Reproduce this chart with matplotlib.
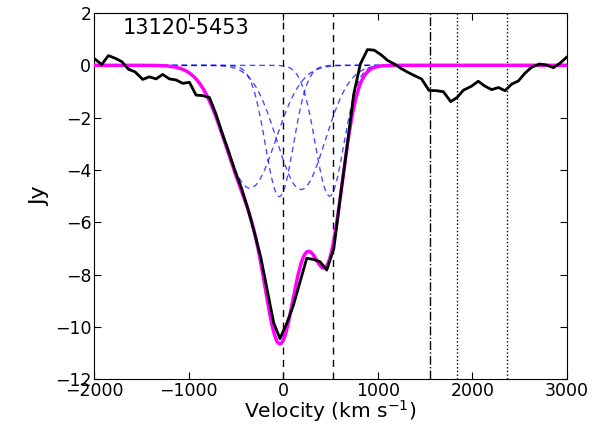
import matplotlib
matplotlib.use("Agg")
from matplotlib import pyplot as plt
import numpy as np

# observed spectrum (black)
vel = [-1995, -1919, -1849, -1778, -1707, -1637, -1567, -1486, -1416, -1345,
       -1275, -1204, -1133, -1063, -992, -922, -851, -781, -713, -645,
       -577, -509, -441, -373, -305, -237, -169, -101, -35, 33,
       105, 176, 248, 318, 389, 460, 535, 605, 675, 745,
       815, 890, 960, 1035, 1105, 1175, 1245, 1318, 1390, 1462,
       1541, 1620, 1693, 1771, 1838, 1905, 1990, 2062, 2133, 2204,
       2274, 2345, 2415, 2485, 2556, 2627, 2710, 2785, 2856, 2926, 2997]
flux = [0.25, 0.03, 0.37, 0.27, 0.14, -0.15, -0.25, -0.54, -0.44, -0.52,
        -0.35, -0.52, -0.56, -0.69, -0.65, -1.14, -1.16, -1.23, -1.85, -2.6,
        -3.3, -4.05, -4.7, -5.5, -6.4, -7.35, -8.6, -9.85, -10.45, -9.9,
        -9.2, -8.3, -7.38, -7.42, -7.51, -7.83, -7.0, -5.0, -3.1, -1.1,
        0.05, 0.6, 0.58, 0.4, 0.18, 0.05, -0.12, -0.27, -0.4, -0.52,
        -0.96, -0.97, -1.01, -1.39, -1.23, -0.95, -0.8, -0.61, -0.8, -0.93,
        -0.85, -0.97, -0.72, -0.6, -0.3, -0.07, 0.05, 0.01, -0.09, 0.08, 0.31]

# gaussian components of the fit: centre (km/s), depth (Jy), sigma (km/s)
comp_centre = [-352, -41, 188, 490]
comp_depth = [-4.7, -5.02, -4.75, -5.0]
comp_width = [272, 148, 255, 150]

# line markers
lines_dash = [0, 525]
lines_dashdot = [1548]
lines_dot = [1840, 2361]


def gauss(v, c, a, s):
    return a * np.exp(-(v - c) ** 2 / (2.0 * s ** 2))


fig = plt.figure(figsize=(6.11, 4.26), dpi=100)
ax = fig.add_axes([0.154, 0.110, 0.774, 0.8595])

vv = np.linspace(-2000, 3000, 1001)
total = np.zeros_like(vv)
for c, a, s in zip(comp_centre, comp_depth, comp_width):
    g = gauss(vv, c, a, s)
    total += g
    ax.plot(vv, g, color="blue", alpha=0.7, lw=1.0, dashes=(4, 3), zorder=2)

for x in lines_dash:
    ax.axvline(x, color="k", lw=1.0, dashes=(5, 4), zorder=1)
for x in lines_dashdot:
    ax.axvline(x, color="k", lw=1.0, linestyle="-.", zorder=1)
for x in lines_dot:
    ax.axvline(x, color="k", lw=1.0, linestyle=":", zorder=1)

ax.plot(vv, total, color="magenta", lw=2.5, zorder=3)
ax.plot(vel, flux, color="black", lw=2.0, zorder=4)

ax.text(0.06, 0.985, "13120-5453", transform=ax.transAxes, va="top", fontsize=15)

ax.set_xlim(-2000, 3000)
ax.set_ylim(-12, 2)
ax.set_xticks([-2000, -1000, 0, 1000, 2000, 3000])
ax.set_yticks(range(-12, 3, 2))
ax.tick_params(direction="in", top=True, right=True, length=5, labelsize=12.5, pad=2)
ax.set_xlabel("Velocity (km s$^{-1}$)", fontsize=14.5, labelpad=-1)
ax.set_ylabel("Jy", fontsize=16, labelpad=3)

plt.savefig("out.png", dpi=100)
